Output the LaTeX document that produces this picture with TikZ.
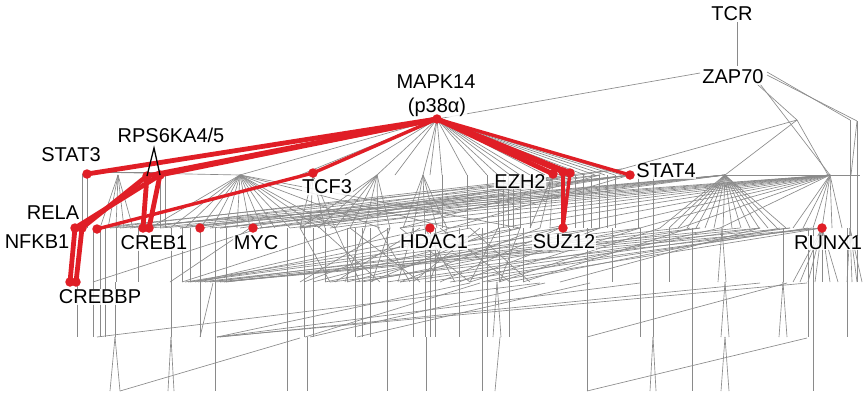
\documentclass[tikz,border=0pt]{standalone}
\usepackage{fontspec}
\setmainfont{Liberation Sans}
\definecolor{nred}{RGB}{224,30,38}
\definecolor{ngray}{RGB}{138,138,138}
\tikzset{
  gl/.style={draw=ngray,line width=0.65pt},
  rl/.style={draw=nred,line width=4.8pt,line cap=round},
  rlt/.style={draw=nred,line width=3.4pt,line cap=round},
  dot/.style={circle,fill=nred,inner sep=0pt,minimum size=9.5pt},
  lab/.style={font=\fontsize{20}{22}\selectfont,inner sep=0.5pt,fill=white,fill opacity=0.85,text opacity=1},
  blk/.style={draw=black,line width=1.3pt}
}
\newcommand\gfan[4]{\foreach \t in {#4}{\draw[gl] (#1,#2) -- (\t,#3);}}
\newcommand\gdrop[3]{\foreach \t in {#3}{\draw[gl] (\t,#1) -- (\t,#2);}}
\newcommand\gseg[1]{\foreach \a/\b/\c/\d in {#1}{\draw[gl] (\a,\b) -- (\c,\d);}}
\begin{document}
\begin{tikzpicture}[x=1pt,y=-1pt]
\useasboundingbox (0,0) rectangle (864,394);
% ---------- gray network ----------
% top
\gseg{737/22/737/66, 700/73/437/119, 757/84/797/120, 760/84/830/175, 767/72/850/120, 767/75/857/121,
      797/120/725/175, 797/120/622/169, 797/120/828/175, 850/120/850/175, 857/121/857/175, 857/121/851/175}
% MAPK14 gray fan
\gfan{437}{119}{175}{240,300,345,377,395,423,430,442,467,487,498,510,520,530,545,560,575,585,595,605,615,622}
\gfan{437}{119}{176}{160}
\gseg{87/172/240/175, 87/172/160/172}
% level 1 -> level 2
\gfan{118}{175}{228}{100,108,116,124,133}
\gdrop{174}{228}{82,87,160,165}
\gfan{240}{175}{228}{150,170,185,200,212,225,237,250,262,275,290,305,320,335,380,450,520}
\gfan{377}{175}{228}{300,318,335,350,365,378,390}
\gfan{423}{175}{228}{403,413,425,437,447}
\gfan{313}{175}{228}{300,310,325,335}
\gdrop{175}{228}{442,467,487,498,503,508,513,520,530,575,583,591,599,607,615,638,653,850,857}
\gfan{553}{174}{228}{530,540,550}
\gfan{725}{175}{228}{660,669,678,687,696,705,714,723,732,741,750,759,768,777,786}
\gfan{830}{175}{228}{793,803,813,822,832,842,110,160,210,260,300,350,400,450,500,550,600,640,680,720}
\gfan{725}{175}{228}{120,150,180,220,260,290,330}
\gfan{630}{175}{228}{130,180,220,260,300,450}
\gfan{600}{175}{228}{95,240,400}
\gfan{575}{175}{228}{140,300}
\gfan{622}{169}{228}{105,200}
\gseg{725/175/860/175}
% level 2 -> level 3
\gdrop{228}{282}{93,100,105,116,138,171,182,190,200,215,226,287,304,313,325,347,355,362,370,387,413,425,430,435,459,482,487,499,509,523,587,612,640,653,669,692,783,808,813,847,857}
\gseg{185/282/520/228, 190/282/600/228, 200/282/680/228, 205/282/740/228, 215/282/790/228, 220/282/822/228,
      226/282/700/228, 195/282/430/228, 182/282/350/228, 170/282/250/228, 93/282/260/228,
      188/282/560/228, 210/282/640/228, 224/282/760/228, 198/282/470/228,
      304/282/450/228, 313/282/520/228, 325/282/600/228, 347/282/560/228, 355/282/700/228, 362/282/640/228,
      387/282/760/228, 413/282/480/228, 425/282/812/228, 459/282/600/228, 482/282/720/228, 487/282/822/228,
      499/282/660/228, 509/282/780/228, 523/282/690/228,
      300/282/390/228, 335/282/420/228, 370/282/500/228, 400/282/540/228, 440/282/560/228, 470/282/640/228,
      320/228/380/282, 350/228/420/282, 400/228/470/282, 440/228/510/282, 470/228/530/282,
      365/228/345/282, 390/228/372/282, 413/228/398/282, 447/228/430/282,
      300/228/330/282, 335/228/360/282, 378/228/410/282, 425/228/455/282, 498/228/470/282, 520/228/500/282,
      790/228/400/282, 822/228/330/282, 760/228/560/282, 808/228/450/282}
\gfan{822}{228}{282}{793,800,808,815,822,830,838}
\gfan{850}{228}{282}{847,852,857,862}
\gfan{722}{228}{282}{718,726}
% level 3 -> level 4
\gdrop{282}{337}{77,93,100,105,115,171,200,215,287,304,313,355,362,370,387,413,425,430,435,459,482,487,509,587,640,653,692,808,813,847}
\gfan{497}{282}{337}{493,501}
\gfan{725}{282}{337}{721,729}
\gfan{783}{282}{337}{779,787}
\gseg{97/337/540/283, 200/337/213/283, 217/337/807/283, 217/337/640/283, 220/337/760/283, 217/337/470/283,
      310/337/545/283, 357/337/590/283, 587/337/787/283, 305/337/480/283}
% level 4 -> level 5
\gdrop{337}{391}{215,287,307,387,426,482,587,692,813}
\gfan{115}{337}{391}{110,120}
\gfan{171}{337}{391}{168,174}
\gfan{653}{337}{391}{650,656}
\gfan{725}{337}{391}{721,729}
\gseg{495/391/500/337, 120/391/300/338, 587/391/807/338}
% ---------- labels ----------
\node[lab] (tcr)   at (732,14)  {TCR};
\node[lab] (zap)   at (733,77)  {ZAP70};
\node[lab] (mapk)  at (436,82)  {MAPK14};
\node[lab] (p38)   at (437,107) {(p38α)};
\node[lab] (stat3) at (71,155)  {STAT3};
\node[lab] (rps)   at (171,135) {RPS6KA4/5};
\node[lab] (tcf3)  at (327,187) {TCF3};
\node[lab] (ezh2)  at (520,182) {EZH2};
\node[lab] (stat4) at (666,171) {STAT4};
\node[lab] (rela)  at (53,213)  {RELA};
\node[lab] (nfkb1) at (37,242)  {NFKB1};
\node[lab] (creb1) at (154,243) {CREB1};
\node[lab] (myc)   at (256,243) {MYC};
\node[lab] (hdac1) at (434,242) {HDAC1};
\node[lab] (suz12) at (564,242) {SUZ12};
\node[lab] (runx1) at (828,243) {RUNX1};
\node[lab] (crebbp) at (100,297) {CREBBP};
% ---------- red network ----------
\coordinate (M)  at (437,119);
\coordinate (S3) at (87,174);
\coordinate (R1) at (147,176);
\coordinate (R2) at (160,175);
\coordinate (RA) at (75,228);
\coordinate (RB) at (82,228);
\coordinate (N3) at (97,229);
\coordinate (C1) at (143,228);
\coordinate (C2) at (149,228);
\coordinate (D1) at (200,228);
\coordinate (MY) at (253,228);
\coordinate (HD) at (430,228);
\coordinate (RU) at (822,228);
\coordinate (CB1) at (70,282);
\coordinate (CB2) at (76,282);
\coordinate (T)  at (313,173);
\coordinate (E1) at (553,174);
\coordinate (E2) at (563,172);
\coordinate (E3) at (570,173);
\coordinate (SZ) at (563,228);
\coordinate (S4) at (630,175);
\draw[rl] (M) -- (S3);
\draw[rl] (M) -- (R1);
\draw[rl] (M) -- (R2);
\draw[rlt] (M) -- (T);
\draw[rlt] (T) -- (N3);
\draw[rl] (M) -- (E1);
\draw[rl] (M) -- (E2);
\draw[rl] (M) -- (E3);
\draw[rlt] (M) -- (S4);
\draw[rlt] (E2) -- (SZ);
\draw[rlt] (E3) -- (SZ);
\draw[rl] (R2) -- (RA);
\draw[rl] (R1) -- (RB);
\draw[rl] (R1) -- (C1);
\draw[rl] (R2) -- (C2);
\draw[rl] (RA) -- (CB1);
\draw[rl] (RB) -- (CB2);
\foreach \p in {M,S3,R1,R2,RA,RB,N3,C1,C2,D1,MY,HD,RU,CB1,CB2,T,E1,E2,E3,SZ,S4}{\node[dot] at (\p) {};}
% black wedge under RPS6KA4/5
\coordinate (RP) at (154,148);
\draw[blk] (R1) -- (RP) -- (R2);
\end{tikzpicture}
\end{document}
